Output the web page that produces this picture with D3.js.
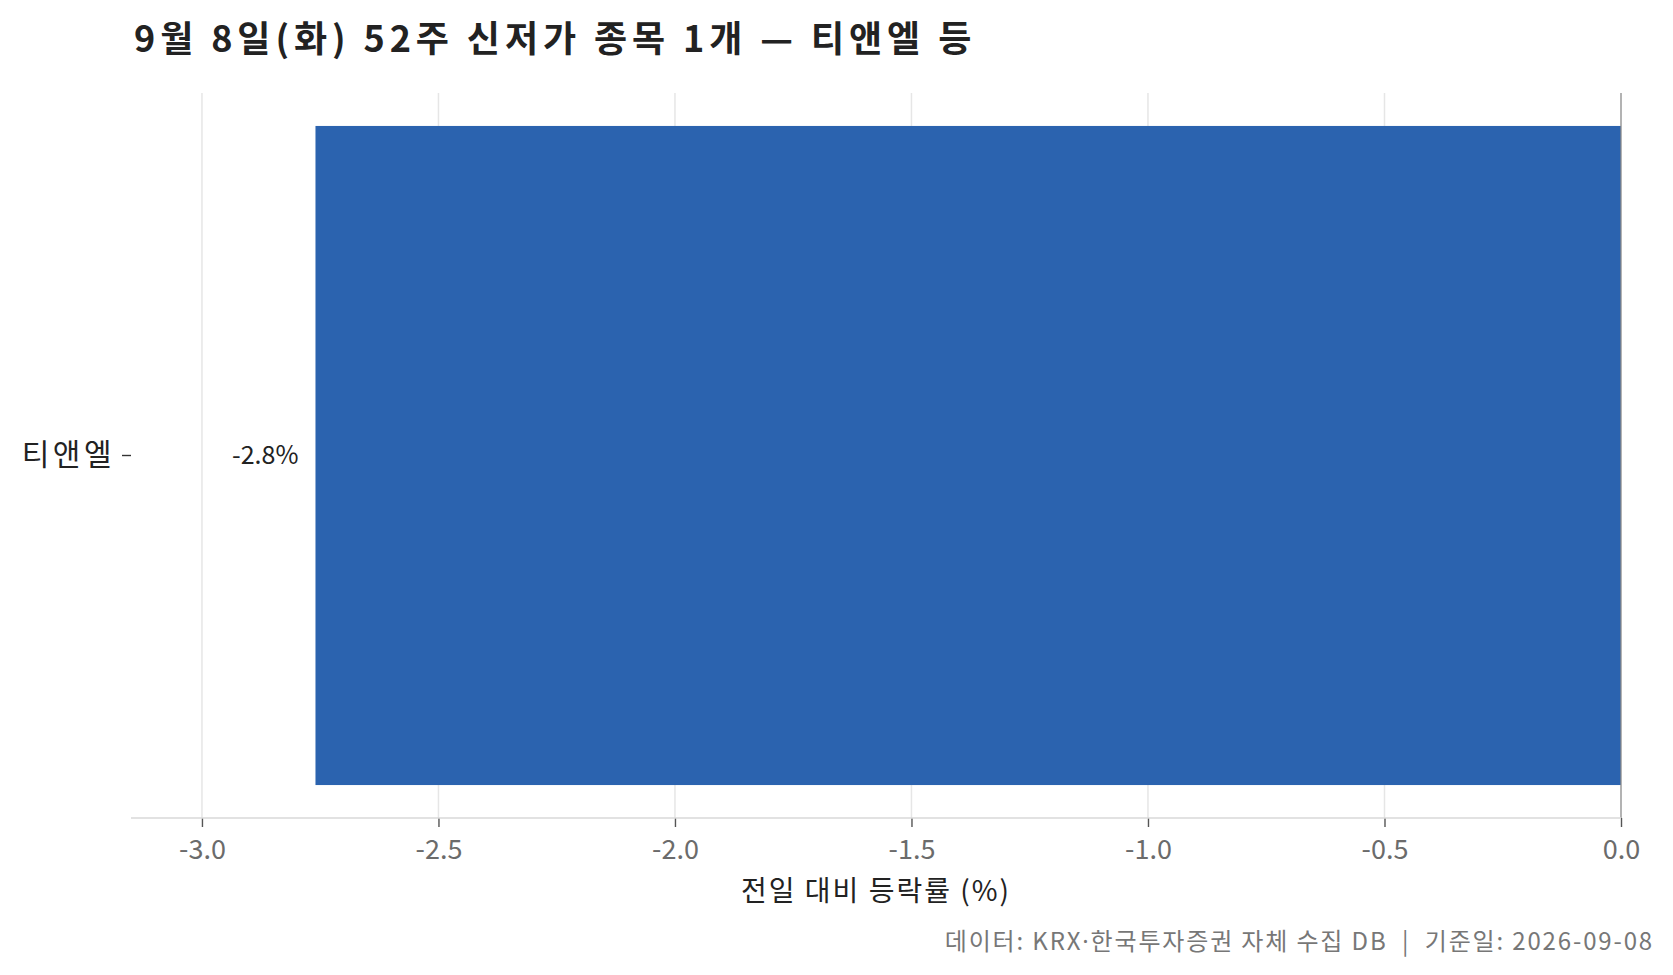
<!DOCTYPE html>
<html>
<head>
<meta charset="utf-8">
<script src="https://cdn.jsdelivr.net/npm/d3@7"></script>
<style>
  body { margin: 0; background: #fff; }
  svg { display: block; font-family: "Noto Sans CJK KR", "Noto Sans", sans-serif; }
</style>
</head>
<body>
<svg id="chart" width="1673" height="975"></svg>
<script>
// data
const categories = ["티앤엘"];
const changes = [-2.76];
const xTicks = [-3.0, -2.5, -2.0, -1.5, -1.0, -0.5, 0.0];
const titleText = "9월 8일(화) 52주 신저가 종목 1개 — 티앤엘 등";
const xLabel = "전일 대비 등락률 (%)";
const sourceText = "데이터: KRX·한국투자증권 자체 수집 DB  |  기준일: 2026-09-08";

const W = 1673, H = 975;
const margin = { left: 131, right: 52, top: 93, bottom: 157 };

const svg = d3.select("#chart");

const x = d3.scaleLinear()
    .domain([-3.15, 0])
    .range([margin.left, W - margin.right]);

const y = d3.scaleBand()
    .domain(categories)
    .range([margin.top, H - margin.bottom])
    .paddingInner(0)
    .paddingOuter(0.05);

// grid
svg.append("g")
    .selectAll("line")
    .data(xTicks.filter(d => d !== 0))
    .join("line")
    .attr("x1", d => x(d)).attr("x2", d => x(d))
    .attr("y1", margin.top).attr("y2", H - margin.bottom)
    .attr("stroke", "#e6e6e6")
    .attr("stroke-width", 1.5);

// bars
svg.append("g")
    .selectAll("rect")
    .data(categories)
    .join("rect")
    .attr("x", (d, i) => x(Math.min(0, changes[i])))
    .attr("width", (d, i) => Math.abs(x(changes[i]) - x(0)))
    .attr("y", d => y(d))
    .attr("height", y.bandwidth())
    .attr("fill", "#2b63af");

// zero line
svg.append("line")
    .attr("x1", x(0)).attr("x2", x(0))
    .attr("y1", margin.top).attr("y2", H - margin.bottom)
    .attr("stroke", "#8a8a8a")
    .attr("stroke-width", 1.3);

// value labels
svg.append("g")
    .selectAll("text")
    .data(categories)
    .join("text")
    .attr("x", (d, i) => x(changes[i]) - 17)
    .attr("y", d => y(d) + y.bandwidth() / 2)
    .attr("dy", "0.35em")
    .attr("text-anchor", "end")
    .attr("font-size", 25)
    .attr("fill", "#222")
    .text((d, i) => changes[i].toFixed(1) + "%");

// x axis
const xAxis = svg.append("g")
    .attr("transform", `translate(0,${H - margin.bottom})`)
    .call(d3.axisBottom(x).tickValues(xTicks).tickFormat(d3.format(".1f")).tickSize(9).tickPadding(13).tickSizeOuter(0));
xAxis.select(".domain").remove();
xAxis.append("line")
    .attr("x1", margin.left).attr("x2", x(0))
    .attr("stroke", "#d9d9d9").attr("stroke-width", 1.6);
xAxis.selectAll(".tick line").attr("stroke", "#555").attr("stroke-width", 1.4);
xAxis.selectAll(".tick text")
    .attr("font-size", 27)
    .attr("font-family", "'Noto Sans CJK KR', sans-serif")
    .attr("fill", "#6b6b6b")
    .text(d => d3.format(".1f")(d).replace("−", "-"));

// y axis
const yAxis = svg.append("g")
    .attr("transform", `translate(${margin.left},0)`)
    .call(d3.axisLeft(y).tickSize(9).tickPadding(7).tickSizeOuter(0));
yAxis.select(".domain").remove();
yAxis.selectAll(".tick line").attr("stroke", "#333").attr("stroke-width", 1.4);
yAxis.selectAll(".tick text")
    .attr("font-size", 30)
    .attr("letter-spacing", 3.5)
    .attr("font-family", "'Noto Sans CJK KR', sans-serif")
    .attr("fill", "#222");

// axis title
svg.append("text")
    .attr("x", (margin.left + x(0)) / 2)
    .attr("y", 901)
    .attr("text-anchor", "middle")
    .attr("font-size", 28)
    .attr("letter-spacing", 2)
    .attr("fill", "#222")
    .text(xLabel);

// title
svg.append("text")
    .attr("x", 134)
    .attr("y", 52)
    .attr("font-size", 36)
    .attr("letter-spacing", 4.9)
    .attr("font-weight", "bold")
    .attr("fill", "#222")
    .text(titleText);

// source (middle dot drawn with a Latin font so it stays narrow)
const src = svg.append("text")
    .attr("x", 1654)
    .attr("y", 950)
    .attr("text-anchor", "end")
    .attr("font-size", 24)
    .attr("letter-spacing", 1.85)
    .attr("fill", "#777")
    .style("white-space", "pre");
sourceText.split("·").forEach((part, i) => {
    if (i > 0) src.append("tspan").attr("font-family", "'Noto Sans', sans-serif").text("·");
    src.append("tspan").text(part);
});
</script>
</body>
</html>
